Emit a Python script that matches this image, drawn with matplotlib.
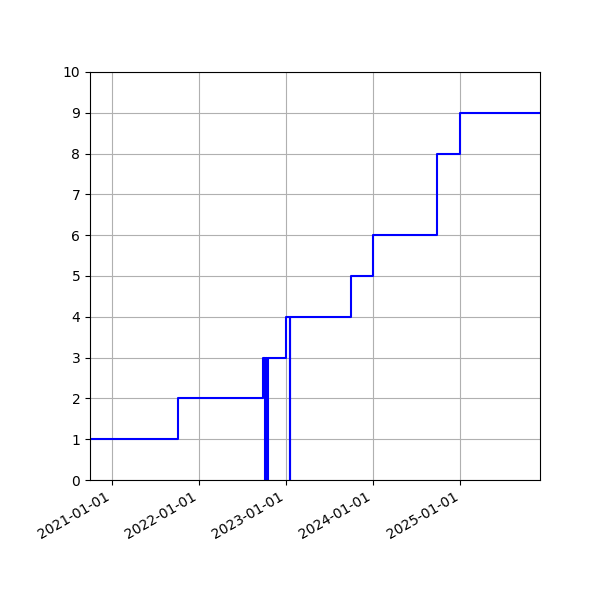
import pandas as pd
import numpy as np
from matplotlib import pyplot as plt
import matplotlib.dates as mdates

# step data (value holds until next date)
dates = ['2020-09-30', '2021-10-06', '2022-09-25', '2022-10-04', '2022-10-08',
         '2022-10-11', '2022-10-16', '2023-01-01', '2023-01-18', '2023-01-19',
         '2023-09-28', '2024-01-01', '2024-09-25', '2024-12-30', '2025-12-01']
values = [1, 2, 3, 0, 3, 0, 3, 4, 0, 4, 5, 6, 8, 9, 9]

dates = pd.to_datetime(dates)

fig = plt.figure(figsize=(6, 6), dpi=100)
ax = fig.add_axes([0.15, 0.2, 0.75, 0.68])
ax.plot(dates, values, drawstyle='steps-post', color='blue', linewidth=1.5)

ax.set_ylim(0, 10)
ax.set_yticks(range(0, 11))
ax.set_xlim(dates[0], dates[-1])
ax.xaxis.set_major_locator(mdates.YearLocator())
ax.xaxis.set_major_formatter(mdates.DateFormatter('%Y-%m-%d'))
ax.grid(True)
for lbl in ax.get_xticklabels():
    lbl.set_rotation(30)
    lbl.set_ha('right')

plt.savefig('out.png')
